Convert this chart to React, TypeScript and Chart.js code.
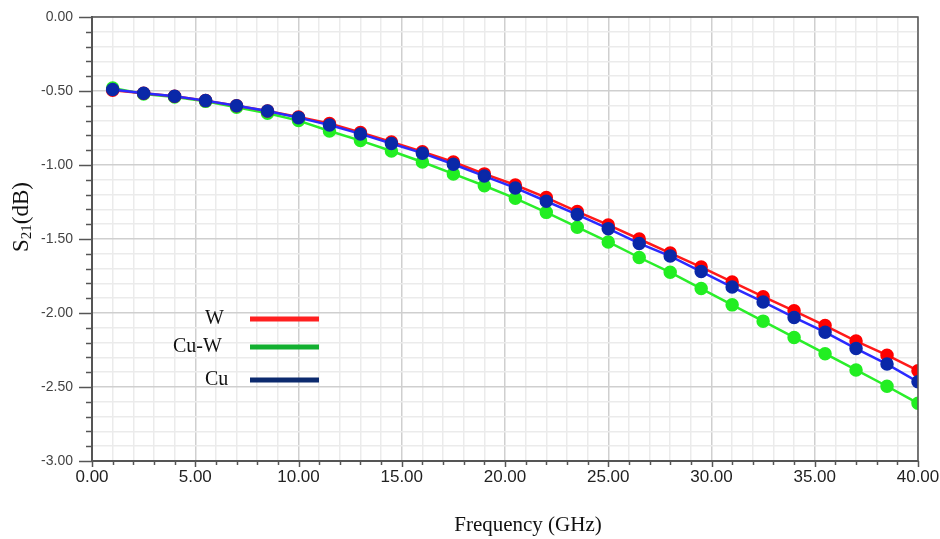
import React, { useEffect, useRef } from "react";
import { Chart, registerables } from "chart.js";

Chart.register(...registerables);

const freqGHz = [1, 2.5, 4, 5.5, 7, 8.5, 10, 11.5, 13, 14.5, 16, 17.5, 19, 20.5, 22, 23.5, 25, 26.5, 28, 29.5, 31, 32.5, 34, 35.5, 37, 38.5, 40];
const s21W = [-0.495, -0.515, -0.535, -0.565, -0.6, -0.635, -0.675, -0.72, -0.78, -0.845, -0.91, -0.98, -1.06, -1.135, -1.22, -1.315, -1.405, -1.5, -1.595, -1.69, -1.79, -1.89, -1.985, -2.085, -2.19, -2.285, -2.39];
const s21Cu = [-0.49, -0.515, -0.535, -0.565, -0.6, -0.635, -0.68, -0.73, -0.79, -0.855, -0.92, -0.995, -1.075, -1.155, -1.245, -1.335, -1.43, -1.53, -1.615, -1.72, -1.825, -1.925, -2.03, -2.13, -2.24, -2.345, -2.465];
const s21CuW = [-0.48, -0.52, -0.54, -0.57, -0.61, -0.65, -0.7, -0.77, -0.835, -0.905, -0.98, -1.06, -1.14, -1.225, -1.32, -1.42, -1.52, -1.625, -1.725, -1.835, -1.945, -2.055, -2.165, -2.275, -2.385, -2.495, -2.61];
const legendLabels = ["W", "Cu-W", "Cu"];
const legendColors = ["#ff2020", "#12b030", "#0c2a6e"];

const SERIF = "'Liberation Serif', 'DejaVu Serif', serif";
const SANS = "'Liberation Sans', Arial, sans-serif";

const decorPlugin = {
  id: "decor",
  afterDraw(chart: any) {
    const ctx = chart.ctx;
    const { left, right, top, bottom } = chart.chartArea;
    const xs = chart.scales.x;
    const ys = chart.scales.y;
    ctx.save();
    ctx.strokeStyle = "#555";
    ctx.lineWidth = 1.5;
    // frame
    ctx.beginPath();
    ctx.moveTo(left, top);
    ctx.lineTo(right, top);
    ctx.lineTo(right, bottom);
    ctx.stroke();
    // y ticks
    for (let i = 0; i <= 30; i++) {
      const y = Math.round(ys.getPixelForValue(-i / 10)) + 0.5;
      const len = i % 5 === 0 ? 13 : 6;
      ctx.beginPath();
      ctx.moveTo(left - len, y);
      ctx.lineTo(left, y);
      ctx.stroke();
    }
    // x ticks
    for (let i = 0; i <= 40; i++) {
      const x = Math.round(xs.getPixelForValue(i)) + 0.5;
      const len = i % 5 === 0 ? 6 : 4;
      ctx.beginPath();
      ctx.moveTo(x, bottom);
      ctx.lineTo(x, bottom + len);
      ctx.stroke();
    }
    // y title with subscript
    ctx.fillStyle = "#111";
    ctx.translate(22, 217);
    ctx.rotate(-Math.PI / 2);
    const big = `23px ${SERIF}`;
    const small = `15px ${SERIF}`;
    ctx.font = big;
    const wS = ctx.measureText("S").width;
    const wT = ctx.measureText("(dB)").width;
    ctx.font = small;
    const w21 = ctx.measureText("21").width;
    const total = wS + w21 + wT;
    let px = -total / 2;
    ctx.textBaseline = "middle";
    ctx.textAlign = "left";
    ctx.font = big;
    ctx.fillText("S", px, 0);
    px += wS;
    ctx.font = small;
    ctx.fillText("21", px, 5);
    px += w21;
    ctx.font = big;
    ctx.fillText("(dB)", px, 0);
    ctx.restore();

    ctx.save();
    ctx.fillStyle = "#111";
    ctx.font = `21px ${SERIF}`;
    ctx.textAlign = "center";
    ctx.textBaseline = "middle";
    ctx.fillText("Frequency (GHz)", 528, 525);

    // legend
    const ly = [319, 347, 380];
    const tx = [205, 173, 205];
    ctx.font = `20px ${SERIF}`;
    ctx.textAlign = "left";
    for (let i = 0; i < 3; i++) {
      ctx.fillStyle = "#111";
      ctx.fillText(legendLabels[i], tx[i], ly[i]);
      ctx.strokeStyle = legendColors[i];
      ctx.lineWidth = 5;
      ctx.lineCap = "butt";
      ctx.beginPath();
      ctx.moveTo(250, ly[i]);
      ctx.lineTo(319, ly[i]);
      ctx.stroke();
    }
    ctx.restore();
  },
};

export default function App() {
  const ref = useRef<HTMLCanvasElement | null>(null);
  useEffect(() => {
    document.body.style.margin = "0";
    const toPts = (ys: number[]) => freqGHz.map((f, i) => ({ x: f, y: ys[i] }));
    const chart = new Chart(ref.current as HTMLCanvasElement, {
      type: "line",
      data: {
        datasets: [
          {
            label: "Cu",
            data: toPts(s21Cu),
            borderColor: "#2a2aff",
            backgroundColor: "#0a28a8",
            pointBorderColor: "#0a28a8",
            pointBackgroundColor: "#0a28a8",
            borderWidth: 2.5,
            pointRadius: 5.5,
            tension: 0,
          },
          {
            label: "W",
            data: toPts(s21W),
            borderColor: "#ff1a1a",
            backgroundColor: "#ff0000",
            pointBorderColor: "#ff0000",
            pointBackgroundColor: "#ff0000",
            borderWidth: 2.5,
            pointRadius: 5.5,
            tension: 0,
          },
          {
            label: "Cu-W",
            data: toPts(s21CuW),
            borderColor: "#2aee2a",
            backgroundColor: "#22ee22",
            pointBorderColor: "#22ee22",
            pointBackgroundColor: "#22ee22",
            borderWidth: 2.5,
            pointRadius: 5.5,
            tension: 0,
          },
        ],
      },
      options: {
        animation: false,
        responsive: false,
        maintainAspectRatio: false,
        layout: { padding: { top: 17, right: 22, left: 0, bottom: 0 } },
        plugins: { legend: { display: false }, tooltip: { enabled: false } },
        scales: {
          x: {
            type: "linear",
            min: 0,
            max: 40,
            afterFit: (s: any) => {
              s.height = 78;
            },
            ticks: {
              stepSize: 1,
              autoSkip: false,
              maxRotation: 0,
              padding: 0,
              color: "#222",
              font: { family: SANS, size: 17 },
              callback: (v: any) => (Math.round(v) % 5 === 0 ? Number(v).toFixed(2) : ""),
            },
            grid: {
              drawTicks: true,
              tickLength: 6,
              tickColor: "rgba(0,0,0,0)",
              color: (c: any) => (c.tick && Math.round(c.tick.value) % 5 === 0 ? "#cfcfcf" : "#ebebeb"),
              lineWidth: 1.5,
            },
            border: { display: true, color: "#555", width: 2 },
          },
          y: {
            type: "linear",
            min: -3,
            max: 0,
            afterFit: (s: any) => {
              s.width = 92;
            },
            ticks: {
              stepSize: 0.1,
              autoSkip: false,
              padding: 0,
              color: "#444",
              font: { family: SANS, size: 14 },
              callback: (v: any) => {
                const k = Math.round(Number(v) * 10);
                if (k % 5 !== 0) return "";
                return (k / 10).toFixed(2).replace("-0.00", "0.00");
              },
            },
            grid: {
              drawTicks: true,
              tickLength: 19,
              tickColor: "rgba(0,0,0,0)",
              color: (c: any) => {
                const k = c.tick ? Math.round(c.tick.value * 10) : 1;
                return k % 5 === 0 ? "#cfcfcf" : "#ebebeb";
              },
              lineWidth: 1.5,
            },
            border: { display: true, color: "#555", width: 2 },
          },
        },
      },
      plugins: [decorPlugin],
    });
    return () => chart.destroy();
  }, []);
  return (
    <div style={{ width: 940, height: 539, background: "#fff" }}>
      <canvas ref={ref} width={940} height={539} style={{ display: "block" }} />
    </div>
  );
}
